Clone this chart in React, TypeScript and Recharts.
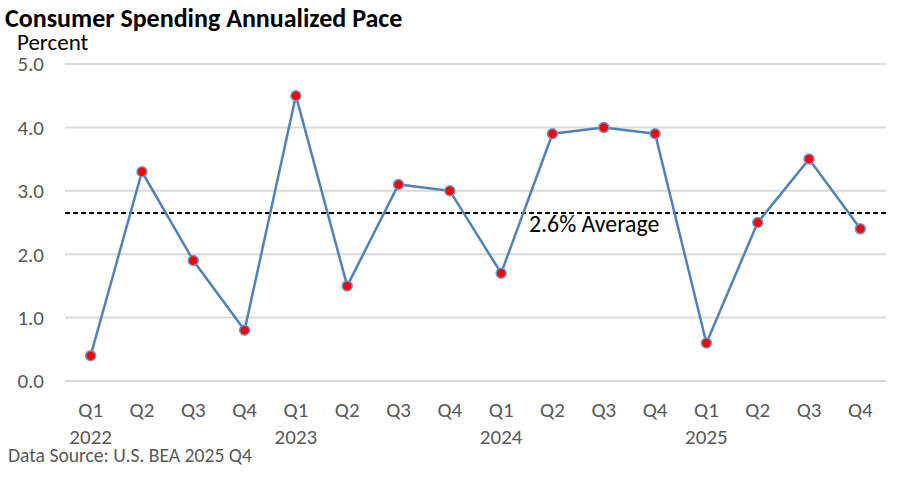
import { ComposedChart, Line, XAxis, YAxis, CartesianGrid, ReferenceLine } from 'recharts';

const quarters = ['Q1', 'Q2', 'Q3', 'Q4', 'Q1', 'Q2', 'Q3', 'Q4', 'Q1', 'Q2', 'Q3', 'Q4', 'Q1', 'Q2', 'Q3', 'Q4'];
const years = ['2022', '2022', '2022', '2022', '2023', '2023', '2023', '2023', '2024', '2024', '2024', '2024', '2025', '2025', '2025', '2025'];
const pace = [0.4, 3.3, 1.9, 0.8, 4.5, 1.5, 3.1, 3.0, 1.7, 3.9, 4.0, 3.9, 0.6, 2.5, 3.5, 2.4];
const yTicks = [0, 1, 2, 3, 4, 5];
const average = 2.65;

const data = quarters.map((q, i) => ({ period: `${q} ${years[i]}`, pace: pace[i] }));

const FONT = "Carlito, Calibri, 'Noto Sans', sans-serif";
const GRAY = '#595959';

function QuarterTick(props: any) {
  const { x, y, payload } = props;
  const [q, yr] = String(payload.value).split(' ');
  return (
    <g>
      <text x={x} y={y} dy={28} textAnchor="middle" fill={GRAY} fontSize={21} fontFamily={FONT}>
        {q}
      </text>
      {q === 'Q1' && (
        <text x={x} y={y} dy={55} textAnchor="middle" fill={GRAY} fontSize={21} fontFamily={FONT}>
          {yr}
        </text>
      )}
    </g>
  );
}

function AverageLabel(props: any) {
  const { viewBox } = props;
  return (
    <text x={viewBox.x + 464} y={viewBox.y + 19} fill="#000" fontSize={23.8} fontFamily={FONT}>
      2.6% Average
    </text>
  );
}

function Dot(props: any) {
  const { cx, cy } = props;
  return <circle cx={cx} cy={cy} r={5} fill="#FF0000" stroke="#6C9BD2" strokeWidth={1.5} />;
}

export default function App() {
  return (
    <div style={{ position: 'absolute', left: 0, top: 0, width: 915, height: 484, background: '#fff', fontFamily: FONT }}>
      <div style={{ position: 'absolute', left: 5, top: 5, fontSize: 26, lineHeight: 1, fontWeight: 700, color: '#000', whiteSpace: 'nowrap' }}>
        Consumer Spending Annualized Pace
      </div>
      <div style={{ position: 'absolute', left: 17, top: 31, fontSize: 23, lineHeight: 1, color: '#000' }}>Percent</div>
      <div style={{ position: 'absolute', left: 8, top: 446, fontSize: 19.6, lineHeight: 1, color: GRAY, whiteSpace: 'nowrap' }}>
        Data Source: U.S. BEA 2025 Q4
      </div>
      <ComposedChart
        width={915}
        height={484}
        data={data}
        margin={{ top: 64, right: 29, left: 0, bottom: 43 }}
        style={{ position: 'absolute', left: 0, top: 0 }}
      >
        <CartesianGrid vertical={false} stroke="#D9D9D9" strokeWidth={2} />
        <XAxis
          dataKey="period"
          scale="band"
          axisLine={false}
          tickLine={false}
          interval={0}
          height={60}
          tick={<QuarterTick />}
        />
        <YAxis
          domain={[0, 5]}
          ticks={yTicks}
          width={65}
          axisLine={false}
          tickLine={false}
          tickSize={0}
          tickMargin={21}
          tickFormatter={(v: number) => v.toFixed(1)}
          tick={{ fill: GRAY, fontSize: 21, fontFamily: FONT }}
        />
        <ReferenceLine y={average} stroke="#000" strokeWidth={2} strokeDasharray="5 3" label={<AverageLabel />} />
        <Line
          type="linear"
          dataKey="pace"
          stroke="#4F81BD"
          strokeWidth={2.5}
          dot={<Dot />}
          activeDot={false}
          isAnimationActive={false}
        />
      </ComposedChart>
    </div>
  );
}
